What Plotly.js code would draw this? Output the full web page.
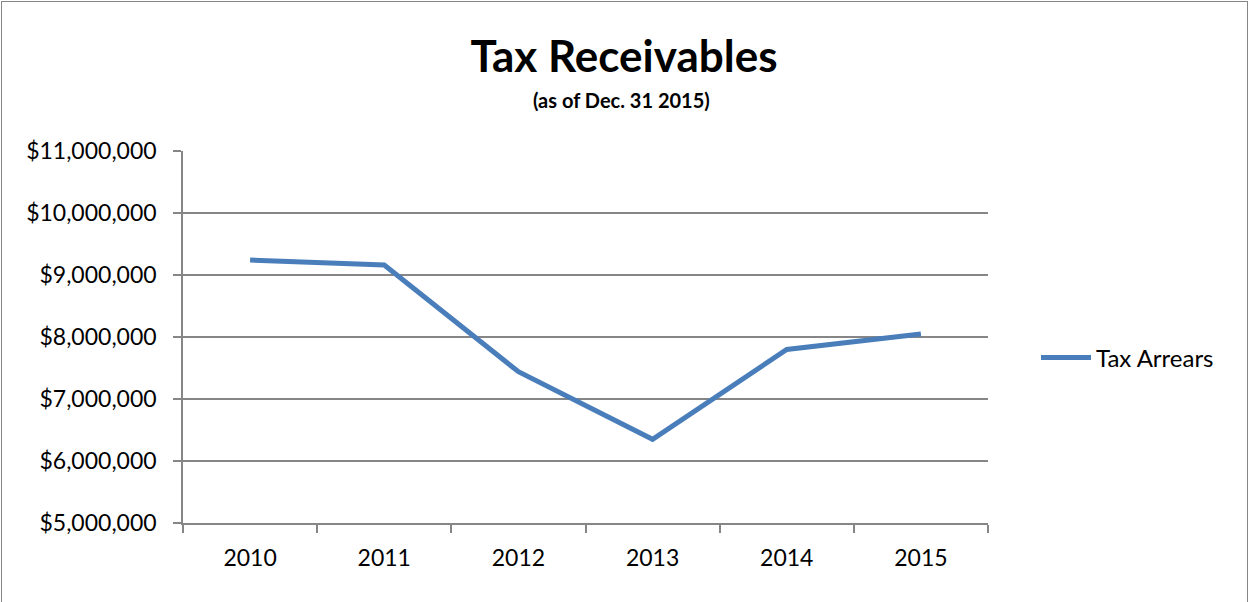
<!DOCTYPE html>
<html><head><meta charset="utf-8">
<script src="https://cdn.plot.ly/plotly-3.0.1.min.js"></script>
<style>html,body{margin:0;padding:0;background:#fff;}#wrap{position:relative;width:1249px;height:602px;}
#frame{position:absolute;left:1px;top:1px;width:1245px;height:600px;border:1px solid #868686;border-bottom:none;pointer-events:none;}</style>
</head><body>
<div id="wrap"><div id="chart" style="width:1249px;height:602px;"></div><div id="frame"></div></div>
<script>
const years = ['2010','2011','2012','2013','2014','2015'];
const taxArrears = [9240000, 9160000, 7440000, 6350000, 7800000, 8050000];
const seriesName = 'Tax Arrears';
const chartTitle = 'Tax Receivables';
const chartSubtitle = '(as of Dec. 31 2015)';

const font = 'Lato, Calibri, "Open Sans", sans-serif';
Plotly.newPlot('chart', [{
  x: years, y: taxArrears, type: 'scatter', mode: 'lines', name: seriesName,
  line: {color: '#4a7ebb', width: 5}
}], {
  width: 1249, height: 602,
  margin: {l: 183, r: 261, t: 151, b: 79},
  paper_bgcolor: '#fff', plot_bgcolor: '#fff',
  font: {family: font, color: '#000'},
  title: {text: '<b>' + chartTitle + '</b>', font: {size: 44, family: font, color: '#000'}, x: 624/1249, xref: 'container', xanchor: 'center', y: 1 - 57/602, yref: 'container', yanchor: 'middle'},
  annotations: [{text: '<b>' + chartSubtitle + '</b>', xref: 'paper', yref: 'paper', x: (621-183)/805, y: 1 + (151-100)/372, showarrow: false, font: {size: 20, family: font, color: '#000'}, yanchor: 'middle'}],
  xaxis: {type: 'category', range: [-0.5, 5.5], showline: true, linecolor: '#868686', linewidth: 1.5,
    ticks: 'outside', tickson: 'boundaries', ticklen: 8, tickcolor: '#868686', tickwidth: 1.5,
    showgrid: false, tickfont: {size: 23, family: font}, ticklabelstandoff: 14},
  yaxis: {range: [5000000, 11000000], dtick: 1000000, tickformat: '$,.0f', showline: true, linecolor: '#868686', linewidth: 1.5,
    ticks: 'outside', ticklen: 8, tickcolor: '#868686', tickwidth: 1.5, gridcolor: '#868686', gridwidth: 1.5,
    zeroline: false, tickfont: {size: 23, family: font}, ticklabelstandoff: 12},
  showlegend: true,
  legend: {x: 1 + (1036-988)/805, y: (523-358)/372, xanchor: 'left', yanchor: 'middle', font: {size: 24, family: font}, bgcolor: 'rgba(0,0,0,0)', itemwidth: 50}
}, {displayModeBar: false});
</script></body></html>
